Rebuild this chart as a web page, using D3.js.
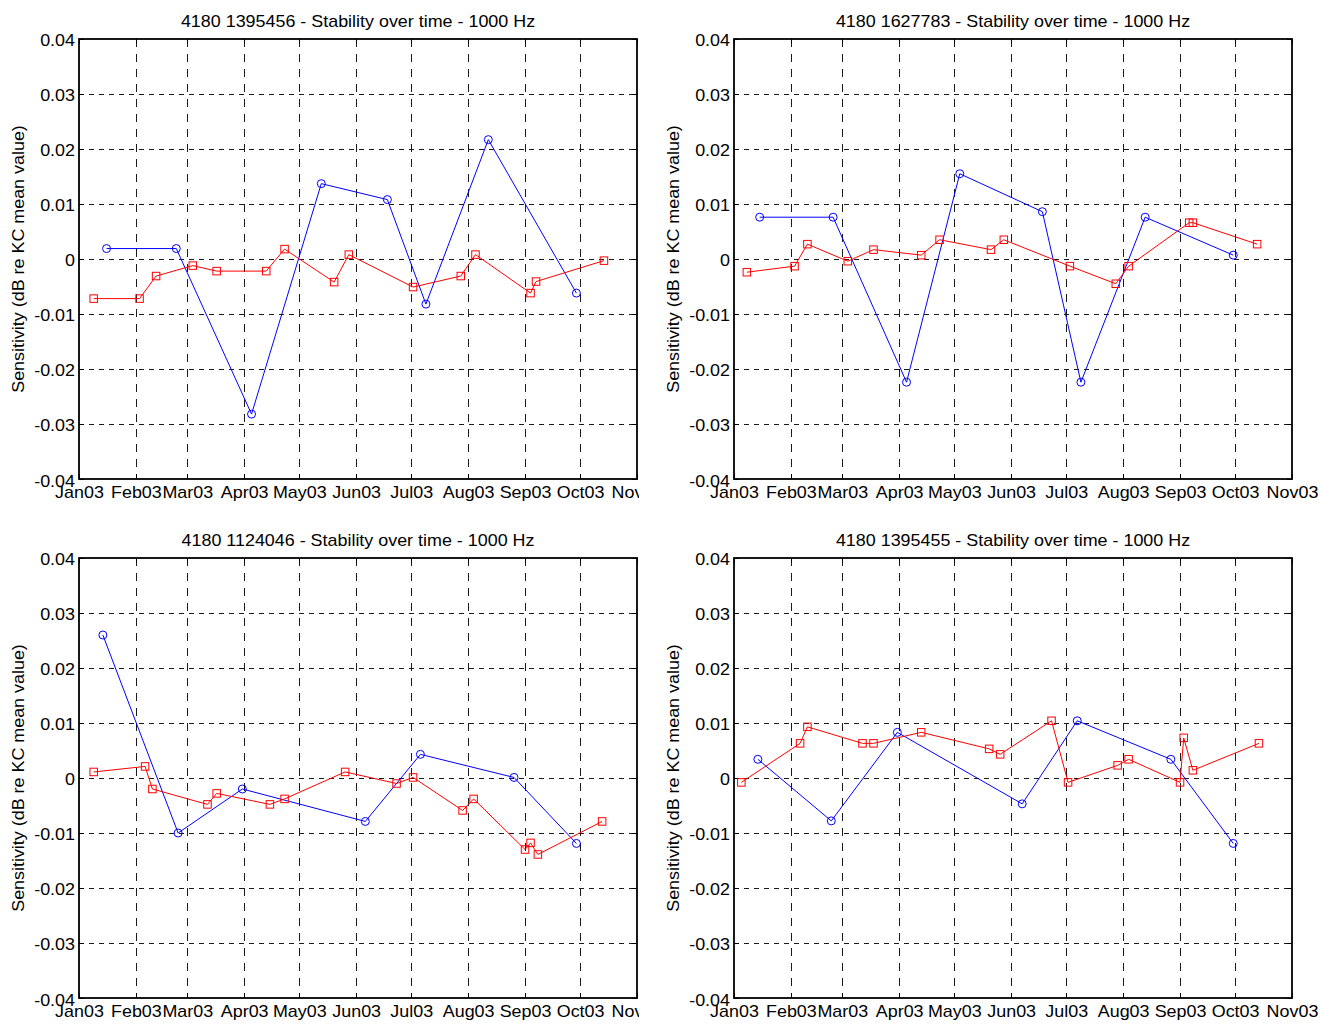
<!DOCTYPE html>
<html>
<head>
<meta charset="utf-8">
<script src="https://cdn.jsdelivr.net/npm/d3@7"></script>
<style>
  html, body { margin: 0; padding: 0; background: #fff; }
  svg { display: block; }
  text { font-family: "Liberation Sans", Arial, Helvetica, sans-serif; fill: #000; }
</style>
</head>
<body>
<svg id="chart" width="1320" height="1024"></svg>
<script>
// ---------- data ----------
const monthLabels = ["Jan03","Feb03","Mar03","Apr03","May03","Jun03","Jul03","Aug03","Sep03","Oct03","Nov03"];
const yTickValues = [0.04, 0.03, 0.02, 0.01, 0, -0.01, -0.02, -0.03, -0.04];
const yTickLabels = ["0.04","0.03","0.02","0.01","0","-0.01","-0.02","-0.03","-0.04"];
const yLabel = "Sensitivity (dB re KC mean value)";
const titles = [
  "4180 1395456 - Stability over time - 1000 Hz",
  "4180 1627783 - Stability over time - 1000 Hz",
  "4180 1124046 - Stability over time - 1000 Hz",
  "4180 1395455 - Stability over time - 1000 Hz"
];

// panel 1
const blueDates1 = ["01-16","02-23","04-05","05-13","06-18","07-09","08-12","09-29"];
const blueVals1  = [0.0019, 0.0019, -0.0282, 0.0137, 0.0108, -0.0082, 0.0217, -0.0062];
const redDates1  = ["01-09","02-03","02-12","03-04","03-17","04-13","04-23","05-20","05-28","07-02","07-28","08-05","09-04","09-07","10-14"];
const redVals1   = [-0.0072, -0.0072, -0.0031, -0.0012, -0.0022, -0.0022, 0.0018, -0.0042, 0.0008, -0.0051, -0.0031, 0.0008, -0.0062, -0.0041, -0.0003];
// panel 2
const blueDates2 = ["01-15","02-24","04-05","05-04","06-18","07-09","08-13","09-30"];
const blueVals2  = [0.0076, 0.0076, -0.0224, 0.0155, 0.0086, -0.0224, 0.0076, 0.0007];
const redDates2  = ["01-08","02-03","02-10","03-04","03-18","04-13","04-23","05-21","05-28","07-03","07-28","08-04","09-06","09-08","10-13"];
const redVals2   = [-0.0024, -0.0013, 0.0027, -0.0004, 0.0017, 0.0007, 0.0035, 0.0017, 0.0035, -0.0013, -0.0045, -0.0013, 0.0066, 0.0066, 0.0027];
// panel 3
const blueDates3 = ["01-14","02-24","03-31","06-06","07-06","08-26","09-29"];
const blueVals3  = [0.0260, -0.0100, -0.0020, -0.0079, 0.0043, 0.0001, -0.0119];
const redDates3  = ["01-09","02-06","02-10","03-12","03-17","04-15","04-23","05-26","06-23","07-02","07-29","08-04","09-01","09-04","09-08","10-13"];
const redVals3   = [0.0011, 0.0021, -0.0020, -0.0048, -0.0028, -0.0048, -0.0038, 0.0011, -0.0010, 0.0001, -0.0059, -0.0038, -0.0130, -0.0118, -0.0139, -0.0079];
// panel 4
const blueDates4 = ["01-14","02-23","03-31","06-07","07-07","08-27","09-30"];
const blueVals4  = [0.0034, -0.0078, 0.0083, -0.0047, 0.0104, 0.0034, -0.0119];
const redDates4  = ["01-05","02-06","02-10","03-12","03-18","04-13","05-20","05-26","06-23","07-02","07-29","08-04","09-01","09-03","09-08","10-14"];
const redVals4   = [-0.0008, 0.0063, 0.0093, 0.0063, 0.0063, 0.0083, 0.0053, 0.0043, 0.0104, -0.0008, 0.0023, 0.0034, -0.0008, 0.0073, 0.0014, 0.0063];

// ---------- drawing ----------
const parse = d3.timeParse("%Y-%m-%d");
const toDate = s => parse("2003-" + s);
const xStart = parse("2003-01-01"), xEnd = parse("2003-11-01");
const monthTicks = d3.timeMonth.range(xStart, d3.timeDay.offset(xEnd, 1));

const svg = d3.select("#chart");
svg.append("rect").attr("width", 1320).attr("height", 1024).attr("fill", "#fff");
svg.append("defs").append("clipPath").attr("id", "leftClip")
  .append("rect").attr("x", 0).attr("y", 0).attr("width", 639).attr("height", 1024);

const SX = 1.12; // horizontal text stretch
const W = 558, H = 440;
const panels = [
  {ox: 79,  oy: 39,  title: titles[0], bd: blueDates1, bv: blueVals1, rd: redDates1, rv: redVals1, clip: true},
  {ox: 734, oy: 39,  title: titles[1], bd: blueDates2, bv: blueVals2, rd: redDates2, rv: redVals2, clip: false},
  {ox: 79,  oy: 558, title: titles[2], bd: blueDates3, bv: blueVals3, rd: redDates3, rv: redVals3, clip: true},
  {ox: 734, oy: 558, title: titles[3], bd: blueDates4, bv: blueVals4, rd: redDates4, rv: redVals4, clip: false}
];

panels.forEach(p => {
  const g = svg.append("g");
  if (p.clip) g.attr("clip-path", "url(#leftClip)");
  const x = d3.scaleTime().domain([xStart, xEnd]).range([p.ox, p.ox + W]);
  const y = d3.scaleLinear().domain([-0.04, 0.04]).range([p.oy + H, p.oy]);

  // grid
  const grid = g.append("g").attr("stroke", "#1a1a1a").attr("stroke-width", 1).attr("shape-rendering", "crispEdges");
  grid.selectAll("line.v").data(monthTicks.slice(1, -1)).join("line")
    .attr("stroke-dasharray", "8,7")
    .attr("x1", d => Math.round(x(d)) + 0.5).attr("x2", d => Math.round(x(d)) + 0.5)
    .attr("y1", y(0.04)).attr("y2", y(-0.04));
  grid.selectAll("line.h").data(yTickValues.slice(1, -1)).join("line")
    .attr("stroke-dasharray", "5,5")
    .attr("y1", d => Math.round(y(d)) + 0.5).attr("y2", d => Math.round(y(d)) + 0.5)
    .attr("x1", x(xStart)).attr("x2", x(xEnd));

  // inner ticks
  const tk = g.append("g").attr("stroke", "#000").attr("stroke-width", 1).attr("shape-rendering", "crispEdges");
  const TL = 5;
  monthTicks.forEach(d => {
    const xx = Math.round(x(d)) + 0.5;
    tk.append("line").attr("x1", xx).attr("x2", xx).attr("y1", y(-0.04)).attr("y2", y(-0.04) - TL);
    tk.append("line").attr("x1", xx).attr("x2", xx).attr("y1", y(0.04)).attr("y2", y(0.04) + TL);
  });
  yTickValues.forEach(v => {
    const yy = Math.round(y(v)) + 0.5;
    tk.append("line").attr("y1", yy).attr("y2", yy).attr("x1", x(xStart)).attr("x2", x(xStart) + TL);
    tk.append("line").attr("y1", yy).attr("y2", yy).attr("x1", x(xEnd)).attr("x2", x(xEnd) - TL);
  });

  // box
  g.append("rect").attr("x", x(xStart)).attr("y", y(0.04))
    .attr("width", x(xEnd) - x(xStart)).attr("height", y(-0.04) - y(0.04))
    .attr("fill", "none").attr("stroke", "#000").attr("stroke-width", 1.8);

  // x axis labels
  const xa = g.append("g").attr("transform", `translate(0,${y(-0.04)})`)
    .call(d3.axisBottom(x).tickValues(monthTicks).tickFormat((d, i) => monthLabels[i]).tickSize(0));
  xa.select(".domain").remove();
  xa.selectAll("text").attr("y", 0).attr("dy", 0)
    .attr("transform", `translate(0,18.5) scale(${SX},1)`)
    .style("font-size", "16px").attr("fill", "#000");

  // y axis labels
  const ya = g.append("g").attr("transform", `translate(${x(xStart)},0)`)
    .call(d3.axisLeft(y).tickValues(yTickValues).tickFormat((d, i) => yTickLabels[i]).tickSize(0));
  ya.select(".domain").remove();
  ya.selectAll("text").attr("x", 0).attr("dy", 0)
    .attr("transform", (d, i) => `translate(-4,${i === yTickValues.length - 1 ? 7.5 : 6}) scale(${SX},1)`)
    .style("font-size", "16px").attr("fill", "#000");

  // title
  g.append("text").attr("transform", `translate(${(x(xStart) + x(xEnd)) / 2},${p.oy - 12.5}) scale(${SX},1)`)
    .attr("text-anchor", "middle").style("font-size", "16px").text(p.title);

  // y label
  g.append("text").attr("transform", `translate(${x(xStart) - 55},${(y(0.04) + y(-0.04)) / 2}) rotate(-90) scale(${SX},1)`)
    .attr("text-anchor", "middle").style("font-size", "16px").text(yLabel);

  // series
  const blue = p.bd.map((d, i) => ({d: toDate(d), v: p.bv[i]}));
  const red = p.rd.map((d, i) => ({d: toDate(d), v: p.rv[i]}));
  const line = d3.line().x(d => x(d.d)).y(d => y(d.v));

  g.append("path").datum(blue).attr("d", line).attr("fill", "none").attr("stroke", "#0000ff").attr("stroke-width", 1);
  g.append("path").datum(red).attr("d", line).attr("fill", "none").attr("stroke", "#ff0000").attr("stroke-width", 1);

  g.selectAll("circle.b").data(blue).join("circle")
    .attr("cx", d => x(d.d)).attr("cy", d => y(d.v)).attr("r", 4)
    .attr("fill", "none").attr("stroke", "#0000ff").attr("stroke-width", 1);
  const S = 7.5;
  g.selectAll("rect.r").data(red).join("rect")
    .attr("x", d => x(d.d) - S / 2).attr("y", d => y(d.v) - S / 2)
    .attr("width", S).attr("height", S)
    .attr("fill", "none").attr("stroke", "#ff0000").attr("stroke-width", 1);
});
</script>
</body>
</html>
